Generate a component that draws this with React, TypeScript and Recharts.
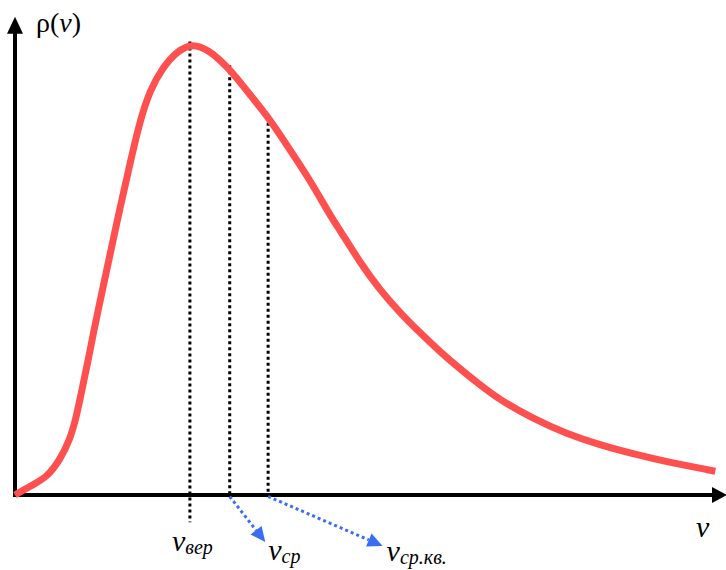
import { LineChart, Line, XAxis, YAxis, ReferenceLine } from 'recharts';

// speed (arbitrary units) and probability density
const speed = [0, 25, 45, 63, 77, 86, 94, 103, 111, 120, 129, 148, 162, 176, 190, 208, 228, 250, 274, 288, 302, 340, 359, 387, 415, 443, 457, 485, 513, 542, 570, 598, 626, 654, 682, 729, 776, 823, 869, 917, 985];
const density = [0, 0.021, 0.037, 0.072, 0.113, 0.159, 0.216, 0.278, 0.34, 0.402, 0.464, 0.594, 0.685, 0.773, 0.835, 0.882, 0.915, 0.932, 0.915, 0.897, 0.878, 0.808, 0.773, 0.711, 0.649, 0.577, 0.546, 0.48, 0.423, 0.375, 0.334, 0.295, 0.26, 0.227, 0.196, 0.157, 0.126, 0.103, 0.085, 0.068, 0.049];

// characteristic speeds: most probable, mean, root mean square
const markerNames = ['вер', 'ср', 'ср.кв.'];
const markerSpeed = [246, 302, 356];
const markerTop = [0.935, 0.886, 0.78];
const markerBottom = [-0.056, -0.002, -0.002];

// pointer arrows from mean and rms markers down to their labels
const arrowFrom = [302, 356];
const arrowToSpeed = [352, 517];
const arrowToDensity = [-0.097, -0.105];

const data = speed.map((v, i) => ({ v, p: density[i] }));

const FONT = '"Liberation Serif", "Times New Roman", serif';
const RED = '#ff5050';
const BLUE = '#3a6cf4';

const SubLabel = ({ x, y, sub }: { x: number; y: number; sub: string }) => (
  <text x={x} y={y} fontFamily={FONT} fontSize={30} fontStyle="italic" fill="#000">
    v
    <tspan fontSize={20} dy={3}>{sub}</tspan>
  </text>
);

const YAxisShape = (props: any) => {
  const { x1, y1, x2, y2 } = props;
  return (
    <g>
      <line x1={x1} y1={y1 + 2} x2={x2} y2={y2 + 14} stroke="#000" strokeWidth={4} />
      <polygon points={`${x2},${y2} ${x2 - 8},${y2 + 17} ${x2 + 8},${y2 + 17}`} fill="#000" />
      <text x={x2 + 21} y={y2 + 15} fontFamily={FONT} fontSize={28} fill="#000">
        ρ(<tspan fontStyle="italic">v</tspan>)
      </text>
    </g>
  );
};

const XAxisShape = (props: any) => {
  const { x1, y1, x2, y2 } = props;
  return (
    <g>
      <line x1={x1 - 2} y1={y1} x2={x2 - 12} y2={y2} stroke="#000" strokeWidth={4} />
      <polygon points={`${x2 + 1},${y2} ${x2 - 14},${y2 - 8} ${x2 - 14},${y2 + 8}`} fill="#000" />
      <text x={x2 - 30} y={y2 + 42} fontFamily={FONT} fontSize={30} fontStyle="italic" fill="#000">v</text>
    </g>
  );
};

const makeMarker = (i: number) => (props: any) => {
  const { x1, y1, x2, y2 } = props;
  const bottom = Math.max(y1, y2);
  return (
    <g>
      <line x1={x1} y1={y1} x2={x2} y2={y2} stroke="#000" strokeWidth={3} strokeDasharray="3 3" />
      {i === 0 && <SubLabel x={x1 - 18} y={bottom + 29} sub={markerNames[0]} />}
    </g>
  );
};

const makeArrow = (i: number) => (props: any) => {
  const { x1, y1, x2, y2 } = props;
  const a = Math.atan2(y2 - y1, x2 - x1);
  const len = 15;
  const hw = 7;
  const bx = x2 - len * Math.cos(a);
  const by = y2 - len * Math.sin(a);
  const px = -Math.sin(a) * hw;
  const py = Math.cos(a) * hw;
  return (
    <g>
      <line x1={x1} y1={y1} x2={bx} y2={by} stroke={BLUE} strokeWidth={3} strokeDasharray="3 3" />
      <polygon points={`${x2},${y2} ${bx + px},${by + py} ${bx - px},${by - py}`} fill={BLUE} />
      <SubLabel x={x2 + (i === 0 ? 3 : 4)} y={y2 + (i === 0 ? 18 : 15)} sub={markerNames[i + 1]} />
    </g>
  );
};

export default function App() {
  return (
    <div style={{ position: 'absolute', left: 0, top: 0, background: '#fff' }}>
      <LineChart width={726} height={570} data={data} margin={{ top: 10, right: 0, left: 15, bottom: 75 }}>
        <XAxis type="number" dataKey="v" domain={[0, 1000]} hide />
        <YAxis type="number" domain={[0, 1]} hide />
        <ReferenceLine segment={[{ x: 0, y: 0 }, { x: 0, y: 0.986 }]} ifOverflow="visible" shape={YAxisShape} />
        <ReferenceLine segment={[{ x: 0, y: 0 }, { x: 1000, y: 0 }]} ifOverflow="visible" shape={XAxisShape} />
        {markerSpeed.map((s, i) => (
          <ReferenceLine
            key={markerNames[i]}
            segment={[{ x: s, y: markerTop[i] }, { x: s, y: markerBottom[i] }]}
            ifOverflow="visible"
            shape={makeMarker(i)}
          />
        ))}
        {arrowFrom.map((s, i) => (
          <ReferenceLine
            key={'arrow' + i}
            segment={[{ x: s, y: -0.003 }, { x: arrowToSpeed[i], y: arrowToDensity[i] }]}
            ifOverflow="visible"
            shape={makeArrow(i)}
          />
        ))}
        <Line
          type="basis"
          dataKey="p"
          stroke={RED}
          strokeWidth={7}
          dot={false}
          isAnimationActive={false}
        />
      </LineChart>
    </div>
  );
}
